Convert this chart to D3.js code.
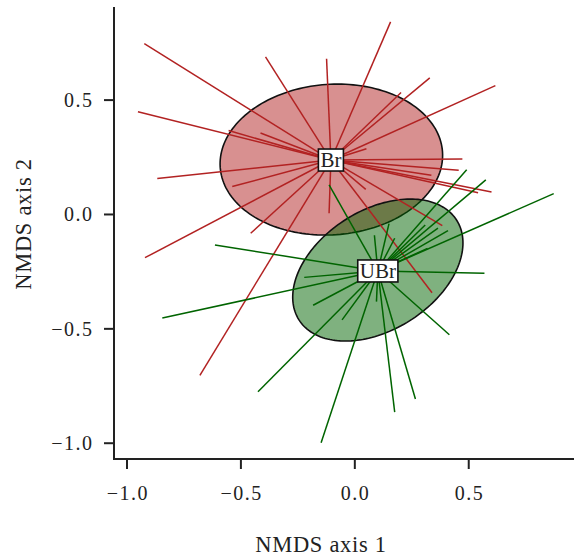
<!DOCTYPE html>
<html>
<head>
<meta charset="utf-8">
<script src="https://cdn.jsdelivr.net/npm/d3@7"></script>
<style>
html,body{margin:0;padding:0;background:#fff;}
svg{display:block;}
text{font-family:"Liberation Serif","Times New Roman",serif;fill:#222;}
</style>
</head>
<body>
<svg id="chart" width="574" height="559"></svg>
<script>
// ---- data ----
const groups = ["Br", "UBr"];
const centroids = [[-0.105, 0.238], [0.101, -0.247]];
const brPoints = [
  [-0.924, 0.747], [-0.952, 0.449], [-0.554, 0.367], [-0.414, 0.356], [-0.392, 0.689],
  [-0.124, 0.681], [0.157, 0.842], [0.203, 0.533], [0.329, 0.597], [0.617, 0.563],
  [0.051, 0.287], [0.472, 0.243], [0.456, 0.193], [0.336, 0.171], [0.541, 0.095],
  [0.600, 0.098], [0.384, -0.049], [0.339, -0.342], [-0.867, 0.157], [-0.538, 0.122],
  [-0.921, -0.189], [-0.457, -0.082], [-0.680, -0.703], [-0.113, 0.005], [0.048, 0.110]
];
const ubrPoints = [
  [-0.113, 0.129], [-0.614, -0.133], [-0.845, -0.453], [-0.183, -0.397], [-0.425, -0.775],
  [-0.148, -0.998], [-0.056, -0.461], [0.175, -0.864], [0.266, -0.807], [0.415, -0.526],
  [0.095, -0.381], [0.569, -0.257], [0.873, 0.091], [0.575, 0.151], [0.491, 0.195],
  [0.409, -0.071], [0.309, -0.046], [0.365, -0.060], [0.150, -0.040], [0.086, -0.091],
  [0.175, -0.104], [-0.222, -0.275], [0.319, -0.148]
];
// ellipses: center x, center y, semi-axis a, semi-axis b, rotation (deg)
const ellipseBr = [-0.103, 0.240, 0.489, 0.329, 4];
const ellipseUBr = [0.101, -0.243, 0.409, 0.262, 32];
const xTicks = [-1.0, -0.5, 0.0, 0.5];
const yTicks = [-1.0, -0.5, 0.0, 0.5];
const xTitle = "NMDS axis 1";
const yTitle = "NMDS axis 2";

// ---- layout ----
const svg = d3.select("#chart");
const pLeft = 114, pRight = 574, pTop = 7, pBottom = 459;
const x = d3.scaleLinear().domain([-1.057, 0.962]).range([pLeft, pRight]);
const y = d3.scaleLinear().domain([-1.069, 0.907]).range([pBottom, pTop]);

const lineColors = ["#b22222", "#006400"];
const fillColors = ["rgba(178,34,34,0.5)", "rgba(0,100,0,0.5)"];

function ellipsePath(e) {
  const [cx, cy, a, b, deg] = e;
  const th = deg * Math.PI / 180;
  const pts = d3.range(0, 361, 2).map(t => {
    const r = t * Math.PI / 180;
    const u = a * Math.cos(r), v = b * Math.sin(r);
    return [x(cx + u * Math.cos(th) - v * Math.sin(th)), y(cy + u * Math.sin(th) + v * Math.cos(th))];
  });
  return d3.line()(pts) + "Z";
}

// ellipses
[ellipseBr, ellipseUBr].forEach((e, i) => {
  svg.append("path").attr("d", ellipsePath(e))
    .attr("fill", fillColors[i]).attr("stroke", "#111").attr("stroke-width", 1.6);
});

// spiders
[brPoints, ubrPoints].forEach((pts, i) => {
  const c = centroids[i];
  svg.append("g").selectAll("line").data(pts).join("line")
    .attr("x1", x(c[0])).attr("y1", y(c[1]))
    .attr("x2", d => x(d[0])).attr("y2", d => y(d[1]))
    .attr("stroke", lineColors[i]).attr("stroke-width", 1.5);
});

// labels
groups.forEach((g, i) => {
  const c = centroids[i];
  const gg = svg.append("g");
  const t = gg.append("text").attr("x", x(c[0])).attr("y", y(c[1]) + 7.2)
    .attr("text-anchor", "middle").style("font-size", "21px").text(g);
  const bb = t.node().getBBox();
  gg.insert("rect", "text")
    .attr("x", bb.x - 2).attr("y", y(c[1]) - 11)
    .attr("width", bb.width + 4).attr("height", 22)
    .attr("fill", "#fff").attr("stroke", "#111").attr("stroke-width", 1.6);
});

// axes
const axisColor = "#222";
svg.append("line").attr("x1", pLeft).attr("x2", pLeft).attr("y1", pTop).attr("y2", pBottom + 1)
  .attr("stroke", axisColor).attr("stroke-width", 2);
svg.append("line").attr("x1", pLeft - 1).attr("x2", pRight).attr("y1", pBottom).attr("y2", pBottom)
  .attr("stroke", axisColor).attr("stroke-width", 2);

const fmt = d => (d < 0 ? "\u2212" : "") + Math.abs(d).toFixed(1);

const xAxis = svg.append("g");
xTicks.forEach(v => {
  xAxis.append("line").attr("x1", x(v)).attr("x2", x(v)).attr("y1", pBottom).attr("y2", pBottom + 10)
    .attr("stroke", axisColor).attr("stroke-width", 2);
  xAxis.append("text").attr("x", x(v) + 0.8).attr("y", 500).attr("text-anchor", "middle")
    .style("font-size", "20px").style("letter-spacing", "1.5px").text(fmt(v));
});
const yAxis = svg.append("g");
yTicks.forEach(v => {
  yAxis.append("line").attr("x1", pLeft - 10).attr("x2", pLeft).attr("y1", y(v)).attr("y2", y(v))
    .attr("stroke", axisColor).attr("stroke-width", 2);
  yAxis.append("text").attr("x", 93.5).attr("y", y(v) + 6.8).attr("text-anchor", "end")
    .style("font-size", "20px").style("letter-spacing", "1.5px").text(fmt(v));
});

svg.append("text").attr("x", 321).attr("y", 552).attr("text-anchor", "middle")
  .style("font-size", "22.5px").style("letter-spacing", "0.7px").text(xTitle);
svg.append("text").attr("transform", "translate(31,224) rotate(-90)").attr("text-anchor", "middle")
  .style("font-size", "22.5px").style("letter-spacing", "0.7px").text(yTitle);
</script>
</body>
</html>
